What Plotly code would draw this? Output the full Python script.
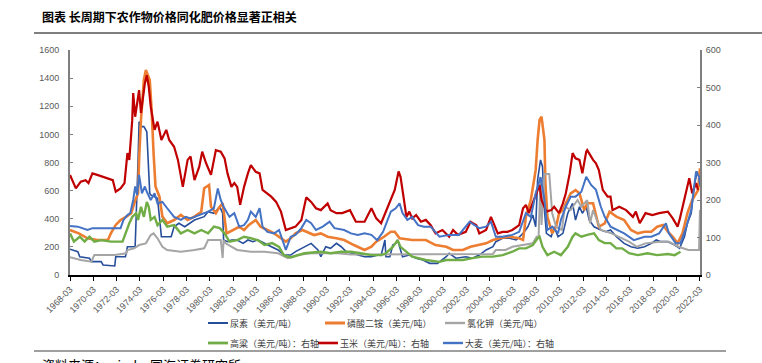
import plotly.graph_objects as go

# ---------------- data ----------------
urea_dates = ["1968-03","1968-11","1969-01","1969-11","1970-01","1970-11","1971-01","1972-01","1972-02","1972-12",
    "1973-02","1973-10","1974-01","1974-02","1974-05","1974-07","1974-10","1975-01","1975-02","1975-09",
    "1976-01","1976-11","1977-02","1977-07","1978-01","1978-11","1979-09","1980-01","1980-07","1981-01",
    "1981-04","1981-05","1981-09","1982-01","1982-07","1983-01","1983-06","1983-11","1984-04","1984-11",
    "1985-06","1986-01","1986-07","1987-02","1987-07","1988-04","1988-11","1989-06","1989-09","1990-02",
    "1990-07","1991-01","1991-06","1991-11","1992-06","1993-01","1993-06","1994-01","1994-08","1994-11",
    "1995-01","1995-03","1995-04","1995-08","1995-11","1996-02","1996-04","1996-06","1996-09","1997-04",
    "1997-11","1998-06","1999-01","1999-09","2000-06","2000-09","2001-04","2002-02","2002-09","2003-04",
    "2003-11","2004-06","2004-09","2005-04","2005-11","2006-06","2007-01","2007-06","2007-11","2008-02",
    "2008-04","2008-07","2008-09","2008-11","2009-01","2009-06","2009-09","2010-01","2010-06","2010-11",
    "2011-04","2011-07","2011-11","2012-02","2012-06","2012-09","2013-02","2013-09","2014-02","2014-07",
    "2015-01","2015-09","2016-04","2016-11","2017-06","2018-01","2018-06","2018-11","2019-06","2020-01",
    "2020-06","2020-11","2021-02","2021-06","2021-09","2021-12","2022-02","2022-03"]
urea_values = [183,166,130,119,95,95,71,64,130,130,
    201,201,818,1090,1055,1055,1019,581,569,545,
    272,272,343,368,343,391,415,450,439,486,
    439,249,237,249,249,225,249,237,249,225,
    201,178,142,142,166,201,225,178,130,201,
    190,225,201,166,154,142,130,130,142,140,
    201,249,130,130,213,225,249,201,130,142,
    119,107,83,83,130,154,119,130,119,142,
    178,201,237,261,261,249,296,343,427,343,
    676,818,770,462,296,272,343,272,296,439,
    510,391,486,439,486,391,343,320,308,320,
    272,225,201,190,201,225,249,237,237,213,
    190,272,368,439,628,735,699,628]

dap_dates = ["1968-03","1968-12","1969-09","1970-07","1971-06","1971-09","1972-02","1972-07","1973-01","1973-06",
    "1973-09","1974-01","1974-02","1974-04","1974-07","1974-09","1975-01","1975-03","1975-05","1975-07",
    "1975-11","1976-02","1976-07","1977-02","1977-09","1978-04","1978-11","1979-06","1979-09","1980-02",
    "1980-04","1980-09","1981-01","1981-04","1981-08","1982-02","1982-09","1983-02","1983-07","1984-02",
    "1984-07","1985-02","1985-09","1986-04","1986-09","1987-02","1987-07","1988-02","1988-09","1989-02",
    "1989-09","1990-04","1991-01","1991-09","1992-07","1993-06","1994-01","1994-06","1995-02","1995-09",
    "1996-01","1996-06","1997-07","1998-09","1999-07","2000-06","2001-01","2001-11","2002-07","2003-04",
    "2003-11","2004-06","2005-01","2005-11","2006-09","2007-01","2007-04","2007-09","2008-02","2008-04",
    "2008-06","2008-08","2008-11","2008-12","2009-02","2009-07","2009-11","2010-02","2010-06","2010-09",
    "2011-02","2011-07","2011-11","2012-04","2012-07","2013-01","2013-04","2013-07","2014-01","2014-06",
    "2015-01","2015-09","2016-04","2016-11","2017-06","2018-01","2018-07","2019-01","2019-06","2019-11",
    "2020-04","2020-09","2021-02","2021-07","2022-01","2022-03"]
dap_values = [320,296,261,249,249,296,356,391,415,439,
    510,581,818,1102,1387,1458,1387,1173,865,628,
    557,415,368,391,427,391,415,450,617,640,
    486,439,486,510,296,320,343,320,356,391,
    343,320,296,261,237,261,296,320,296,284,
    296,272,261,249,213,178,201,237,272,308,
    308,261,249,249,213,201,178,178,201,213,
    225,249,261,272,261,249,415,533,747,960,
    1102,1126,960,652,415,296,343,439,462,510,
    581,604,581,462,510,510,415,343,368,450,
    415,391,320,296,308,308,343,356,308,272,
    225,296,439,533,604,759]

potash_dates = ["1968-03","1969-02","1970-01","1970-04","1972-01","1973-01","1973-02","1973-09","1974-02","1974-09",
    "1975-02","1975-05","1975-09","1976-02","1976-07","1977-09","1978-11","1979-09","1980-01","1980-07",
    "1981-02","1981-04","1981-05","1981-07","1982-07","1983-09","1984-11","1986-01","1986-11","1987-09",
    "1988-11","1990-01","1991-02","1992-04","1994-07","1996-01","1998-01","2000-01","2002-01","2004-06",
    "2004-09","2005-07","2006-02","2007-01","2007-11","2008-03","2008-05","2008-07","2008-08","2008-11",
    "2009-04","2009-06","2009-07","2009-11","2010-05","2010-08","2011-02","2011-09","2012-01","2012-07",
    "2012-10","2013-01","2013-05","2013-09","2014-08","2015-04","2016-02","2016-10","2017-07","2018-10",
    "2019-07","2020-05","2021-03","2022-02","2022-03"]
potash_values = [126,107,95,142,142,154,178,190,213,225,
    284,296,261,201,178,166,178,190,249,249,
    249,121,249,225,178,166,166,154,119,142,
    154,154,154,145,145,150,150,150,150,150,
    178,178,201,213,225,272,272,690,356,718,
    718,533,439,343,320,486,462,533,486,533,
    368,462,391,320,296,272,237,201,225,237,
    237,201,178,178,462]

sorghum_dates = ["1968-03","1968-07","1969-01","1969-06","1969-11","1970-04","1970-11","1971-09","1972-09","1973-01",
    "1973-04","1973-07","1973-11","1974-01","1974-04","1974-07","1974-10","1974-12","1975-02","1975-06",
    "1975-09","1976-02","1976-07","1977-02","1977-09","1978-04","1978-11","1979-06","1980-01","1980-07",
    "1981-01","1981-06","1981-11","1982-07","1983-02","1983-09","1984-04","1984-11","1985-07","1986-02",
    "1986-07","1987-02","1987-09","1988-04","1989-09","1990-07","1991-06","1992-04","1993-02","1994-01",
    "1994-11","1995-04","1995-11","1996-04","1996-07","1997-01","1997-07","1998-09","1999-11","2000-06",
    "2001-11","2002-09","2003-07","2004-06","2005-04","2006-02","2006-09","2007-04","2007-11","2008-04",
    "2008-06","2008-09","2009-02","2009-09","2010-04","2010-11","2011-04","2011-07","2012-01","2012-07",
    "2013-02","2013-07","2014-01","2014-07","2015-01","2015-07","2016-02","2016-11","2017-09","2018-07",
    "2019-06","2020-01","2020-07"]
sorghum_values = [111,89,102,89,102,89,93,89,89,120,
    138,155,165,147,182,155,195,182,147,155,
    133,147,129,133,111,120,111,120,111,129,
    125,111,89,93,102,98,93,80,85,75,
    53,47,53,58,62,58,62,62,58,53,
    53,58,75,93,75,62,49,40,35,40,
    40,45,49,49,53,62,71,71,80,98,
    102,75,53,62,53,75,102,111,102,107,
    111,93,85,85,71,71,58,53,58,53,
    56,53,62]

corn_dates = ["1968-03","1968-09","1969-02","1969-07","1969-10","1970-02","1970-07","1971-11","1972-02","1972-07",
    "1972-11","1973-02","1973-04","1973-07","1973-08","1973-10","1974-02","1974-04","1974-08","1974-10",
    "1974-12","1975-02","1975-06","1975-09","1976-01","1976-06","1976-09","1977-02","1977-06","1977-11",
    "1978-04","1978-07","1978-11","1979-04","1979-07","1979-11","1980-04","1980-09","1981-02","1981-06",
    "1981-09","1982-01","1982-04","1982-07","1982-10","1983-02","1983-06","1983-09","1984-02","1984-06",
    "1984-09","1985-02","1985-06","1985-11","1986-04","1986-09","1987-02","1987-07","1988-01","1988-06",
    "1988-11","1989-04","1989-09","1990-04","1990-07","1991-01","1991-07","1992-03","1992-09","1993-06",
    "1994-01","1994-06","1994-11","1995-04","1995-09","1996-01","1996-05","1996-07","1996-10","1997-01",
    "1997-04","1997-07","1997-11","1998-04","1998-09","1999-02","1999-07","2000-02","2000-09","2001-01",
    "2001-06","2002-02","2002-07","2003-01","2003-04","2003-11","2004-04","2004-07","2004-11","2005-04",
    "2005-09","2006-02","2006-09","2007-01","2007-04","2007-07","2008-01","2008-04","2008-06","2008-08",
    "2008-11","2009-01","2009-06","2009-09","2010-02","2010-06","2010-09","2011-01","2011-04","2011-07",
    "2011-11","2012-02","2012-06","2012-07","2013-01","2013-04","2013-07","2013-11","2014-04","2014-07",
    "2014-09","2015-04","2015-11","2016-06","2016-09","2017-01","2017-07","2018-02","2018-09","2019-06",
    "2019-11","2020-04","2020-06","2020-11","2021-04","2021-07","2021-11","2022-01"]
corn_values = [267,231,249,253,245,271,267,253,222,231,
    245,325,307,413,485,422,493,432,511,533,
    502,449,387,409,360,387,360,342,307,235,
    307,316,253,289,329,298,267,333,329,311,
    271,235,245,235,187,235,271,293,275,271,
    227,218,209,195,169,120,125,129,147,207,
    195,178,173,191,173,165,165,173,142,142,
    178,151,138,169,200,227,276,262,209,155,
    169,151,160,142,147,133,111,120,102,120,
    107,115,142,133,111,120,155,138,111,115,
    115,120,133,178,187,165,205,227,240,200,
    182,169,173,182,165,191,218,271,325,311,
    307,271,329,333,307,298,280,227,209,209,
    173,182,173,155,169,138,165,160,165,169,
    151,129,147,200,258,218,245,227]

barley_dates = ["1968-03","1968-11","1969-09","1970-02","1971-09","1972-07","1972-10","1973-02","1973-05","1973-08",
    "1973-10","1973-12","1974-02","1974-05","1974-08","1974-10","1975-02","1975-06","1975-09","1976-02",
    "1976-07","1977-02","1977-09","1978-02","1978-07","1979-04","1980-01","1980-07","1980-11","1981-02",
    "1981-05","1981-11","1982-04","1982-09","1983-02","1983-06","1983-09","1984-02","1984-06","1984-09",
    "1985-02","1985-09","1986-02","1986-09","1987-02","1987-07","1988-01","1988-06","1988-11","1989-04",
    "1989-11","1990-06","1990-11","1991-09","1992-04","1992-11","1993-06","1994-01","1994-07","1995-01",
    "1995-03","1995-09","1996-02","1996-06","1996-09","1997-02","1997-07","1998-01","1998-07","1999-02",
    "1999-11","2000-09","2001-07","2002-06","2002-11","2003-04","2003-11","2004-04","2004-09","2005-04",
    "2006-02","2006-09","2007-04","2007-09","2008-02","2008-07","2008-11","2009-02","2009-07","2010-01",
    "2010-04","2010-09","2011-02","2011-07","2012-01","2012-06","2012-11","2013-04","2013-09","2014-01",
    "2014-07","2015-02","2015-09","2016-07","2017-06","2018-01","2018-09","2019-04","2019-07","2020-02",
    "2020-07","2021-01","2021-06","2021-09","2021-11","2022-02","2022-03"]
barley_values = [131,129,120,125,125,125,147,160,165,200,
    236,213,267,218,236,222,200,218,191,195,
    178,155,147,155,151,160,169,178,231,200,
    182,155,165,129,133,147,169,155,178,129,
    115,111,120,67,102,107,125,147,138,120,
    129,142,125,120,111,107,111,107,93,115,
    129,169,178,191,165,147,155,133,129,129,
    102,107,107,142,133,125,129,142,102,102,
    107,115,165,155,218,261,200,120,129,111,
    147,182,209,209,222,262,240,227,182,155,
    129,120,111,93,102,102,111,138,111,85,
    85,129,173,236,276,262,240]

series_names = ["尿素（美元/吨）", "磷酸二铵（美元/吨）", "氯化钾（美元/吨）",
                "高粱（美元/吨）：右轴", "玉米（美元/吨）：右轴", "大麦（美元/吨）：右轴"]
x_tick_start = "1968-03-01"
x_range = ["1968-03-01", "2022-03-03"]
left_range = [0, 1600]
right_range = [0, 600]

title_text = "图表 长周期下农作物价格同化肥价格显著正相关"
source_text = "资料来源：wind，国海证券研究所"

# ---------------- figure ----------------
CJK = "Noto Sans CJK SC"
LAT = "Liberation Sans, Arial, sans-serif"

W, H = 762, 363
L, R, T, B = 70, 62, 50, 88
pw, ph = W - L - R, H - T - B


def px(x):
    return (x - L) / pw


def py(y):
    return (H - B - y) / ph


colors = ["#264E9B", "#ED7D31", "#A5A5A5", "#70AD47", "#C00000", "#4472C4"]
widths = [1.6, 2.6, 2.0, 2.4, 2.2, 2.0]
axes = ["y", "y", "y", "y2", "y2", "y2"]
all_dates = [urea_dates, dap_dates, potash_dates, sorghum_dates, corn_dates, barley_dates]
all_values = [urea_values, dap_values, potash_values, sorghum_values, corn_values, barley_values]

# legend key positions (swatch start x, row centre y) in pixels
legend_slots = [(208, 323), (325, 323), (445, 323), (208, 343), (318, 343), (443, 343)]

fig = go.Figure()
shapes = [
    dict(type="line", xref="paper", yref="paper", x0=px(34), x1=px(762),
         y0=py(33), y1=py(33), line=dict(color="#7F7F7F", width=2)),
    dict(type="line", xref="paper", yref="paper", x0=px(34), x1=px(726),
         y0=py(351), y1=py(351), line=dict(color="#7F7F7F", width=1.5)),
]
annotations = [
    dict(text="<b>" + title_text + "</b>", xref="paper", yref="paper",
         x=px(40), y=py(17), xanchor="left", yanchor="middle", showarrow=False,
         font=dict(family=CJK, size=12, color="black")),
    dict(text=source_text, xref="paper", yref="paper",
         x=px(40), y=py(364), xanchor="left", yanchor="middle", showarrow=False,
         font=dict(family=CJK, size=13, color="black")),
]

for i in range(6):
    fig.add_trace(go.Scatter(x=all_dates[i], y=all_values[i], name=series_names[i],
                             mode="lines", line=dict(color=colors[i], width=widths[i]),
                             yaxis=axes[i], showlegend=False))
    lx, ly = legend_slots[i]
    shapes.append(dict(type="line", xref="paper", yref="paper",
                       x0=px(lx), x1=px(lx + 20), y0=py(ly), y1=py(ly),
                       line=dict(color=colors[i], width=widths[i] + 0.4)))
    annotations.append(dict(text=series_names[i], xref="paper", yref="paper",
                            x=px(lx + 20), y=py(ly), xanchor="left", yanchor="middle",
                            showarrow=False, xshift=0,
                            font=dict(family=CJK, size=9, color="#404040")))

fig.update_layout(
    width=W, height=H,
    margin=dict(l=L, r=R, t=T, b=B, autoexpand=False),
    paper_bgcolor="white", plot_bgcolor="white",
    showlegend=False,
    xaxis=dict(type="date", range=x_range, tick0=x_tick_start, dtick="M24",
               tickformat="%Y-%m", tickangle=-45, ticks="outside", ticklen=4,
               tickcolor="black", tickwidth=1, showline=True, linecolor="black",
               linewidth=1.5, showgrid=False, zeroline=False,
               tickfont=dict(family=LAT, size=9, color="#595959")),
    yaxis=dict(range=left_range, dtick=200, showline=True, linecolor="#7F7F7F",
               linewidth=2, showgrid=False, zeroline=False, ticks="inside",
               ticklen=3, tickcolor="#7F7F7F", ticklabelstandoff=7,
               tickfont=dict(family=LAT, size=9, color="#595959")),
    yaxis2=dict(range=right_range, dtick=100, overlaying="y", side="right",
                showline=True, linecolor="#7F7F7F", linewidth=2, showgrid=False,
                zeroline=False, ticks="inside", ticklen=3, tickcolor="#7F7F7F",
                ticklabelstandoff=2,
                tickfont=dict(family=LAT, size=9, color="#595959")),
    annotations=annotations,
    shapes=shapes,
)

fig.write_html("out.html", config={"displayModeBar": False},
               post_script="document.body.style.margin='0';document.body.style.overflow='hidden';")
